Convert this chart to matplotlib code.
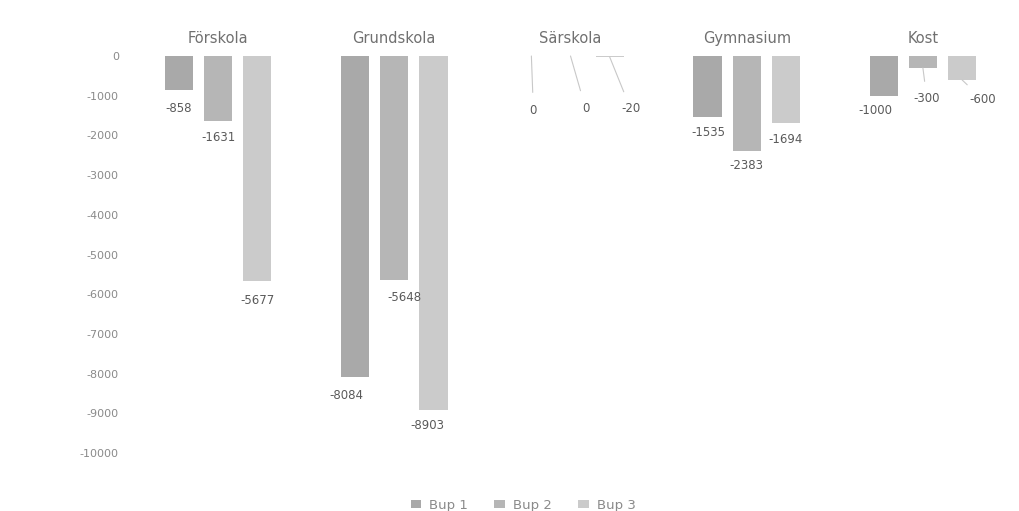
import numpy as np
import matplotlib.pyplot as plt

plt.rcParams['axes.unicode_minus'] = False

# Data
categories = ['Förskola', 'Grundskola', 'Särskola', 'Gymnasium', 'Kost']
series = ['Bup 1', 'Bup 2', 'Bup 3']
bup1 = [-858, -8084, 0, -1535, -1000]
bup2 = [-1631, -5648, 0, -2383, -300]
bup3 = [-5677, -8903, -20, -1694, -600]
yticks = list(range(0, -10001, -1000))

colors = ['#a9a9a9', '#b6b6b6', '#cbcbcb']
text_col = '#707070'

# label offsets in pixels (x, y) per series / category, and whether a leader line is drawn
offsets = [
    [(0, -18), (-9, -18), (2, -54), (1, -16), (-8, -15)],
    [(0, -17), (10, -17), (15, -52), (0, -15), (4, -31)],
    [(0, -19), (-6, -16), (21, -52), (0, -16), (21, -20)],
]
leaders = {(0, 2), (1, 2), (2, 2), (1, 4), (2, 4)}

fig = plt.figure(figsize=(10.2, 5.11), dpi=100)
ax = fig.add_axes([130 / 1020, 1 - 473 / 511, 881 / 1020, 417 / 511])

x = np.arange(len(categories))
step = 0.222
width = 0.16
for i, (vals, c, name) in enumerate(zip([bup1, bup2, bup3], colors, series)):
    pos = x + (i - 1) * step
    ax.bar(pos, vals, width, color=c, label=name)
    for j, (px, v) in enumerate(zip(pos, vals)):
        dx, dy = offsets[i][j]
        arrow = None
        if (i, j) in leaders:
            arrow = dict(arrowstyle='-', color='#c8c8c8', lw=0.8, shrinkA=6, shrinkB=0)
        ax.annotate(str(v), (px, v), xytext=(dx, dy), textcoords='offset pixels',
                    ha='center', va='center', fontsize=8.5, color='#5a5a5a',
                    arrowprops=arrow)

ax.set_xlim(-0.5, 4.5)
ax.set_ylim(-10500, 0)
ax.set_yticks(yticks)
ax.set_yticklabels([str(t) for t in yticks])
ax.set_xticks(x)
ax.set_xticklabels(categories)
ax.xaxis.tick_top()
ax.tick_params(axis='x', length=0, pad=7, labelsize=10.5, labelcolor=text_col)
ax.tick_params(axis='y', length=0, pad=8, labelsize=8, labelcolor='#8a8a8a')
for s in ax.spines.values():
    s.set_visible(False)

fig.legend(loc='center', bbox_to_anchor=(523 / 1020, 1 - 505 / 511), ncol=3,
           frameon=False, fontsize=9.5, labelcolor='#8a8a8a', handlelength=0.8,
           handleheight=0.6, handletextpad=0.6, columnspacing=2.0)

fig.savefig('out.png', dpi=100)
